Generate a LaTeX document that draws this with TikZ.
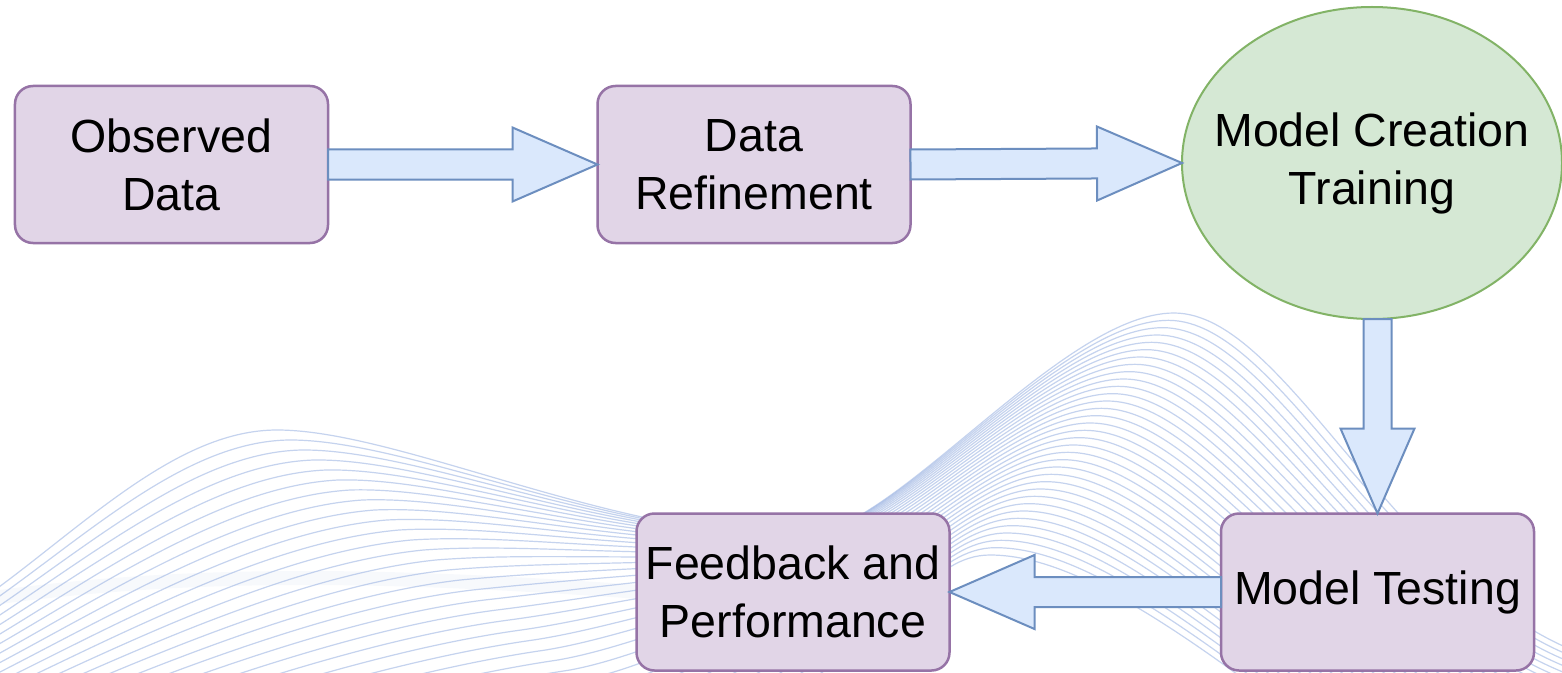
\documentclass[tikz,border=0pt]{standalone}
\usepackage{fontspec}
\setmainfont{Liberation Sans}
\usetikzlibrary{shapes.geometric,calc}

\definecolor{boxfill}{HTML}{E1D5E7}
\definecolor{boxline}{HTML}{9673A6}
\definecolor{ovalfill}{HTML}{D5E8D4}
\definecolor{ovalline}{HTML}{82B366}
\definecolor{arrowfill}{HTML}{DAE8FC}
\definecolor{arrowline}{HTML}{6C8EBF}
\definecolor{wavec}{RGB}{150,175,225}

\newcommand\stagefont{\fontsize{46.5bp}{58bp}\selectfont}

% block arrow from #1 (tail) to #2 (tip), shaft half width #3
\newcommand\fatarrow[3]{%
  \coordinate (hb) at ($(#2)!85bp!(#1)$);
  \draw[blockarrow]
    ($(#1)!#3!90:(#2)$) -- ($(hb)!#3!90:(#2)$) -- ($(hb)!37bp!90:(#2)$) --
    (#2) --
    ($(hb)!37bp!-90:(#2)$) -- ($(hb)!#3!-90:(#2)$) -- ($(#1)!#3!-90:(#2)$) -- cycle;}

\tikzset{
  stage/.style={draw=boxline, fill=boxfill, line width=2.5bp, rounded corners=18bp,
    minimum width=313bp, minimum height=157bp, inner sep=0pt, outer sep=0pt,
    align=center, font=\stagefont},
  oval/.style={ellipse, draw=ovalline, fill=ovalfill, line width=2bp,
    minimum width=380bp, minimum height=312bp, inner sep=0pt, outer sep=0pt,
    align=center, font=\stagefont},
  blockarrow/.style={draw=arrowline, fill=arrowfill, line width=2bp, line join=miter},
  wave/.style={draw=wavec, line width=1.2bp, opacity=0.55}
}

\begin{document}
\begin{tikzpicture}[x=1bp, y=-1bp]
\useasboundingbox (0,0) rectangle (1562,673);
\clip (0,0) rectangle (1562,673);
\fill[white] (0,0) rectangle (1562,673);

% decorative wave lines in the background
\draw[line width=14bp, wavec, opacity=0.07, line cap=round]
  (0,597) .. controls (200,570) and (400,575) .. (640,592);
\foreach \k in {0,...,33}{
  \pgfmathsetmacro\t{\k/33}
  \pgfmathsetmacro\s{\t*\t}
  \draw[wave]
    (-5,{590+310*\t})
    .. controls ({90+60*\t},{520+360*\t}) and ({180+270*\t},{430+370*\t}) ..
    ({277+403*\t},{430+330*\t})
    .. controls ({400+340*\t},{430+310*\t}) and ({620+180*\s},{540+140*\s}) ..
    ({800+60*\s},{535+115*\s})
    .. controls ({890+10*\s},{540+90*\s}) and ({1060-130*\t},{313+242*\t}) ..
    ({1174-184*\t},{313+242*\t})
    .. controls ({1290-210*\t},{313+242*\t}) and ({1400-200*\t},{600+40*\t}) ..
    ({1600-200*\t},{660+140*\t});
}

% stages
\node[stage] (obs) at (171.5,164.5) {Observed\\Data};
\node[stage] (ref) at (754,164.5) {Data\\Refinement};
\node[oval]  (ell) at (1372,163) {\makebox[0pt]{Model Creation}\\\makebox[0pt]{Training}};
\node[stage] (mt)  at (1377.5,592) {Model Testing};
\node[stage] (fb)  at (793,592) {Feedback and\\Performance};

% connectors
\coordinate (vtop) at (mt.north |- ell.south);
\fatarrow{obs.east}{ref.west}{15bp}
\fatarrow{ref.east}{ell.west}{15bp}
\fatarrow{vtop}{mt.north}{14bp}
\fatarrow{mt.west}{fb.east}{15bp}
\end{tikzpicture}
\end{document}
